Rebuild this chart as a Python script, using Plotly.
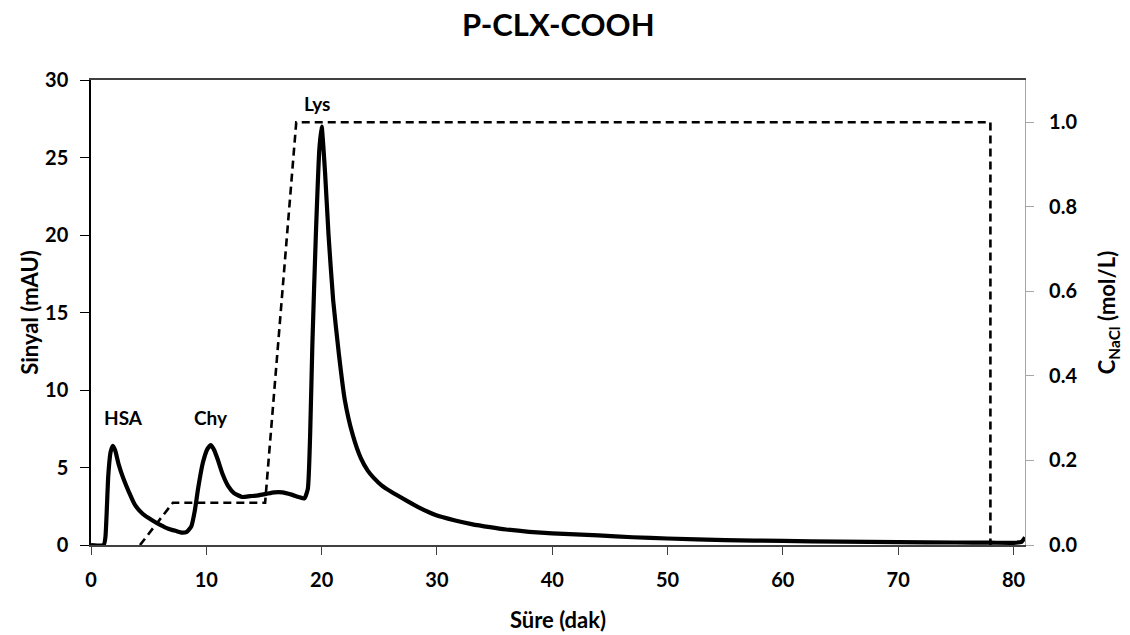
import plotly.graph_objects as go

# Signal (mAU) vs time (min)
time_sig = [0, 1.1, 1.25, 1.5, 1.7, 1.9, 2.1, 2.4, 2.8, 3.3, 3.8, 4.5, 5.3, 6.0, 6.7, 7.4, 7.9,
            8.3, 8.7, 9.0, 9.3, 9.7, 10.1, 10.4, 10.7, 11.0, 11.4, 11.9, 12.4, 13.1, 13.8, 14.5,
            15.2, 15.9, 16.6, 17.4, 18.0, 18.5, 18.8, 19.0, 19.2, 19.5, 19.8, 20.0, 20.3, 20.6,
            21.0, 21.5, 22.0, 22.7, 23.4, 24.0, 24.5, 25.2, 26.0, 27.4, 28.5, 30, 31.5, 33, 34.6,
            36, 38, 40, 44, 47, 50, 55, 60, 65, 70, 75, 78, 80, 80.7, 81]
signal = [0, 0, 0.5, 4.5, 6.0, 6.4, 6.1, 5.2, 4.3, 3.4, 2.6, 2.0, 1.6, 1.3, 1.05, 0.9, 0.8,
          0.85, 1.2, 2.2, 3.7, 5.3, 6.2, 6.45, 6.1, 5.5, 4.6, 3.8, 3.35, 3.1, 3.15, 3.2,
          3.3, 3.4, 3.4, 3.25, 3.1, 3.0, 3.6, 7.0, 13.0, 20.0, 25.5, 27.0, 24.0, 20.0,
          15.8, 12.3, 9.4, 7.1, 5.6, 4.8, 4.35, 3.85, 3.45, 2.85, 2.4, 1.9, 1.6, 1.35, 1.15,
          1.0, 0.85, 0.75, 0.62, 0.5, 0.42, 0.32, 0.26, 0.22, 0.19, 0.16, 0.15, 0.14, 0.2, 0.5]

# NaCl gradient (mol/L) vs time (min)
time_nacl = [4.25, 7.1, 15.1, 17.8, 78.0, 78.0]
nacl = [0.0, 0.1, 0.1, 1.0, 1.0, 0.0]

peak_labels = ["HSA", "Chy", "Lys"]
peak_x = [2.8, 10.4, 19.6]
peak_y = [8.2, 8.2, 28.5]

x_ticks = [0, 10, 20, 30, 40, 50, 60, 70, 80]
y_ticks = [0, 5, 10, 15, 20, 25, 30]
y2_ticks = [0.0, 0.2, 0.4, 0.6, 0.8, 1.0]

FONT = "Lato"
TICKFONT = dict(family=FONT, size=20, color="black", weight="bold")
TITLEFONT = dict(family=FONT, size=22, color="black", weight="bold")

fig = go.Figure()
fig.add_trace(go.Scatter(x=time_nacl, y=nacl, mode="lines", yaxis="y2",
                         line=dict(color="black", width=2.6, dash="8px,5px"),
                         showlegend=False, hoverinfo="skip"))
fig.add_trace(go.Scatter(x=time_sig, y=signal, mode="lines",
                         line=dict(color="black", width=4.2, shape="spline", smoothing=0.5),
                         showlegend=False))

for lab, xx, yy in zip(peak_labels, peak_x, peak_y):
    fig.add_annotation(x=xx, y=yy, text=lab, showarrow=False,
                       font=dict(family=FONT, size=19, color="black", weight="bold"))

fig.update_layout(
    width=1130, height=635,
    margin=dict(l=91, r=105, t=80, b=90),
    paper_bgcolor="white", plot_bgcolor="white",
    title=dict(text="P-CLX-COOH", x=0.494, xanchor="center", y=0.96, yanchor="middle",
               font=dict(family=FONT, size=31, color="black", weight="bold")),
    xaxis=dict(range=[0, 81], tickvals=x_ticks, showgrid=False, zeroline=False,
               showline=True, linecolor="#404040", linewidth=1.5, mirror=True,
               ticks="outside", ticklen=8, tickcolor="#404040", tickwidth=1.2,
               ticklabelstandoff=8, tickfont=TICKFONT, automargin=False,
               title=dict(text="Süre (dak)", standoff=23, font=TITLEFONT)),
    yaxis=dict(range=[0, 30], tickvals=y_ticks, showgrid=False, zeroline=False,
               showline=True, linecolor="black", linewidth=1.5,
               ticks="outside", ticklen=9, tickcolor="black", tickwidth=1.2,
               ticklabelstandoff=8, tickfont=TICKFONT,
               title=dict(text="Sinyal (mAU)", standoff=0, font=TITLEFONT)),
    yaxis2=dict(range=[0, 1.1], tickvals=y2_ticks, tickformat=".1f", overlaying="y",
                side="right", showgrid=False, zeroline=False,
                showline=True, linecolor="#a6a6a6", linewidth=1.2,
                ticks="outside", ticklen=8, tickcolor="#a6a6a6", tickwidth=1.2,
                ticklabelstandoff=11, tickfont=TICKFONT,
                title=dict(text="C<sub>NaCl</sub> (mol/L)", standoff=23, font=TITLEFONT)),
)

fig.write_html("out.html")
